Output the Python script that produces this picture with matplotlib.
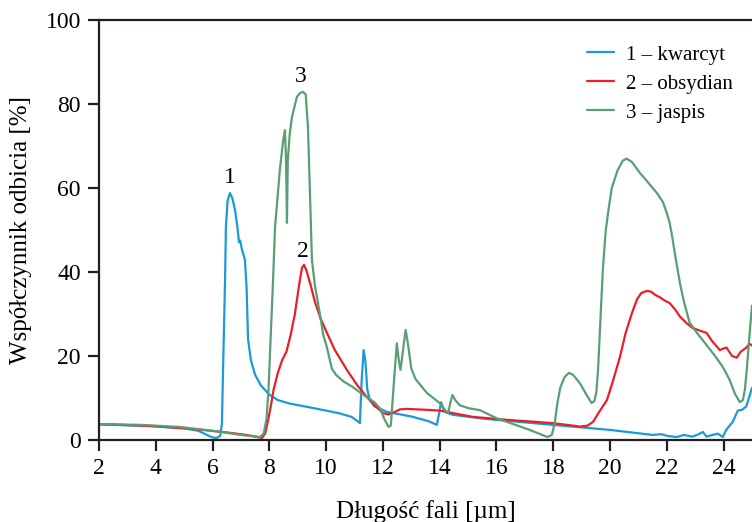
import matplotlib
matplotlib.use("Agg")
import matplotlib.pyplot as plt
import numpy as np

plt.rcParams['font.family'] = ['Liberation Serif', 'DejaVu Serif']

# kwarcyt (1)
x1 = [2.0, 3.5, 5.0, 5.5, 5.8, 6.0, 6.15, 6.27, 6.33, 6.38, 6.44, 6.47, 6.53, 6.61, 6.7, 6.79, 6.87, 6.93, 6.97, 7.03, 7.14, 7.2, 7.25, 7.35, 7.5, 7.7, 8.0, 8.3, 8.7, 9.32, 10.0, 10.5, 10.9, 11.1, 11.19, 11.25, 11.32, 11.38, 11.45, 11.54, 11.7, 12.14, 13.0, 13.6, 13.9, 13.97, 14.05, 14.12, 14.25, 14.46, 15.4, 16.0, 17.0, 18.0, 19.0, 20.0, 20.5, 21.0, 21.5, 21.8, 22.0, 22.35, 22.6, 22.9, 23.1, 23.27, 23.4, 23.6, 23.8, 23.97, 24.1, 24.32, 24.5, 24.65, 24.8, 25.0]
y1 = [3.7, 3.4, 2.8, 2.2, 1.2, 0.6, 0.5, 1.0, 4.0, 20.0, 38.0, 50.7, 57.0, 58.8, 57.5, 54.8, 51.0, 47.1, 47.5, 45.5, 42.9, 36.0, 24.0, 19.0, 15.5, 13.0, 10.8, 9.5, 8.7, 7.9, 7.0, 6.3, 5.5, 4.5, 4.0, 14.0, 21.4, 19.0, 12.0, 9.5, 8.0, 6.7, 5.6, 4.5, 3.6, 6.0, 9.0, 7.5, 6.5, 6.0, 5.2, 4.8, 4.2, 3.6, 3.0, 2.4, 2.0, 1.6, 1.2, 1.4, 1.0, 0.7, 1.2, 0.8, 1.3, 1.9, 0.8, 1.2, 1.5, 0.7, 2.5, 4.3, 7.0, 7.2, 8.0, 12.4]

# obsydian (2)
x2 = [2.0, 4.0, 5.5, 6.5, 7.2, 7.74, 7.85, 7.95, 8.05, 8.15, 8.3, 8.45, 8.6, 8.75, 8.9, 9.05, 9.15, 9.22, 9.3, 9.45, 9.6, 9.8, 10.03, 10.3, 10.73, 11.1, 11.44, 11.75, 12.0, 12.2, 12.4, 12.6, 12.85, 13.5, 14.0, 15.17, 16.37, 17.2, 18.0, 18.6, 18.94, 19.2, 19.4, 19.6, 19.89, 20.1, 20.35, 20.55, 20.77, 20.95, 21.1, 21.3, 21.45, 21.6, 21.75, 21.9, 22.1, 22.3, 22.46, 22.7, 22.9, 23.1, 23.4, 23.6, 23.87, 24.0, 24.1, 24.3, 24.46, 24.6, 24.68, 24.8, 24.92, 25.0]
y2 = [3.8, 3.3, 2.5, 1.8, 1.2, 0.5, 1.5, 4.5, 8.0, 12.0, 16.0, 19.0, 21.0, 25.0, 30.0, 37.0, 41.0, 41.7, 40.5, 37.0, 33.0, 29.0, 25.5, 21.5, 16.7, 13.0, 10.2, 8.0, 6.4, 6.1, 6.6, 7.3, 7.4, 7.2, 7.0, 5.5, 4.8, 4.4, 4.0, 3.5, 3.2, 3.4, 4.3, 6.5, 9.5, 14.0, 19.8, 25.5, 30.2, 33.5, 35.0, 35.5, 35.3, 34.5, 34.0, 33.3, 32.6, 31.0, 29.4, 27.8, 26.7, 26.2, 25.5, 23.5, 21.4, 21.8, 22.0, 20.0, 19.6, 21.0, 21.4, 22.0, 22.9, 22.5]

# jaspis (3)
x3 = [2.0, 3.5, 4.85, 6.0, 7.0, 7.67, 7.8, 7.9, 7.97, 8.05, 8.13, 8.2, 8.37, 8.48, 8.55, 8.59, 8.62, 8.65, 8.72, 8.8, 8.97, 9.08, 9.18, 9.28, 9.36, 9.43, 9.5, 9.6, 9.78, 9.9, 10.03, 10.2, 10.35, 10.6, 10.94, 11.2, 11.43, 11.7, 11.9, 12.05, 12.2, 12.28, 12.4, 12.49, 12.56, 12.62, 12.7, 12.8, 12.88, 13.0, 13.15, 13.55, 14.0, 14.2, 14.3, 14.38, 14.45, 14.55, 14.7, 15.0, 15.42, 16.0, 17.17, 17.8, 17.95, 18.05, 18.15, 18.25, 18.4, 18.55, 18.7, 18.94, 19.15, 19.35, 19.45, 19.52, 19.58, 19.65, 19.75, 19.85, 19.95, 20.06, 20.27, 20.45, 20.58, 20.77, 21.05, 21.33, 21.65, 21.86, 22.0, 22.1, 22.2, 22.28, 22.46, 22.6, 22.8, 23.06, 23.4, 23.7, 23.97, 24.2, 24.4, 24.57, 24.68, 24.75, 24.82, 24.9, 25.0]
y3 = [3.8, 3.6, 3.1, 2.2, 1.2, 0.7, 1.5, 5.0, 12.0, 25.0, 38.0, 50.7, 64.3, 71.0, 73.8, 66.0, 51.7, 66.7, 73.0, 77.0, 81.7, 82.6, 82.9, 82.3, 74.5, 58.8, 42.9, 37.0, 30.0, 25.0, 22.0, 17.0, 15.5, 14.0, 12.6, 11.3, 10.2, 9.0, 7.5, 5.0, 3.1, 3.5, 15.0, 23.0, 19.0, 16.7, 21.0, 26.2, 23.0, 17.0, 14.5, 11.2, 8.8, 7.0, 6.5, 9.0, 10.7, 9.5, 8.3, 7.6, 7.1, 5.2, 2.4, 0.7, 1.2, 4.0, 9.0, 12.5, 15.0, 16.0, 15.5, 13.5, 11.0, 8.8, 9.3, 11.5, 17.0, 27.0, 41.0, 50.0, 55.0, 60.0, 64.3, 66.5, 67.0, 66.2, 63.6, 61.4, 58.8, 56.7, 54.0, 51.7, 48.0, 44.5, 37.4, 33.0, 28.0, 25.5, 22.6, 20.0, 17.4, 14.5, 11.0, 9.0, 9.5, 12.0, 17.0, 24.0, 32.0]

labels = ['1 – kwarcyt', '2 – obsydian', '3 – jaspis']
colors = ['#1b9ad7', '#e8202a', '#5a9e74']
xticks = list(range(2, 25, 2))
yticks = list(range(0, 101, 20))

fig = plt.figure(figsize=(7.52, 5.22), dpi=100)
ax = fig.add_axes([99/752, 1-440/522, 1-99/752, (440-20)/522])

for xs, ys, lab, c in zip([x1, x2, x3], [y1, y2, y3], labels, colors):
    ax.plot(xs, ys, color=c, lw=1.6, label=lab, solid_joinstyle='round', solid_capstyle='round')

ax.set_xlim(2, 25)
ax.set_ylim(0, 100)
ax.set_xticks(xticks)
ax.set_yticks(yticks)
for s in ['left', 'bottom', 'top']:
    ax.spines[s].set_linewidth(1.6)
    ax.spines[s].set_color('#231f20')
ax.spines['right'].set_visible(False)
ax.tick_params(direction='out', length=8, width=1.6, color='#231f20', labelsize=17, pad=5)
ax.set_xlabel('Długość fali [µm]', fontsize=18, labelpad=15)
ax.set_ylabel('Współczynnik odbicia [%]', fontsize=18, labelpad=10)

ax.text(6.61, 60.0, '1', fontsize=17, ha='center', va='bottom')
ax.text(9.12, 84.0, '3', fontsize=17, ha='center', va='bottom')
ax.text(9.18, 42.4, '2', fontsize=17, ha='center', va='bottom')

ax.legend(loc='upper right', frameon=False, fontsize=15, handlelength=1.3, handletextpad=0.6,
          labelspacing=0.45, bbox_to_anchor=(1.0, 0.985))

fig.savefig('out.png', dpi=100)
